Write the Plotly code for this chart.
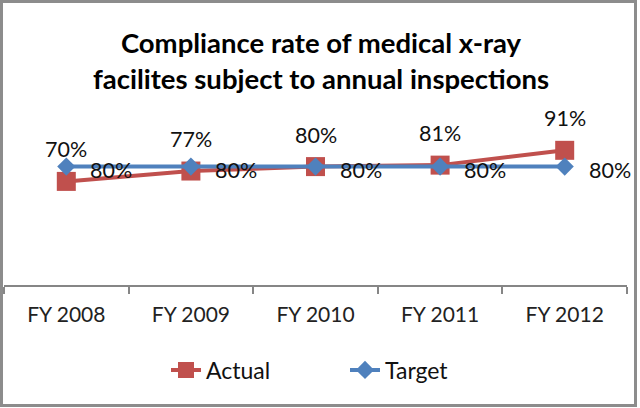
import plotly.graph_objects as go

categories = ["FY 2008", "FY 2009", "FY 2010", "FY 2011", "FY 2012"]
actual = [0.70, 0.77, 0.80, 0.81, 0.91]
target = [0.80, 0.80, 0.80, 0.80, 0.80]
actual_labels = ["70%", "77%", "80%", "81%", "91%"]
target_labels = ["80%", "80%", "80%", "80%", "80%"]

RED = "#C0504D"
BLUE = "#4F81BD"
FONT = "Lato"

W, H = 640, 408
L, R, T, B = 4, 13, 137, 123  # plot area margins

fig = go.Figure()
fig.add_trace(go.Scatter(
    x=categories, y=actual, name="Actual", mode="lines+markers",
    line=dict(color=RED, width=4),
    marker=dict(symbol="square", size=19, color=RED),
))
fig.add_trace(go.Scatter(
    x=categories, y=target, name="Target", mode="lines+markers",
    line=dict(color=BLUE, width=4),
    marker=dict(symbol="diamond", size=14, color=BLUE),
))

annotations = []
for c, v, t in zip(categories, actual, actual_labels):
    annotations.append(dict(x=c, y=v, xref="x", yref="y", text=t, showarrow=False,
                            yshift=32, font=dict(family=FONT, size=21.5, color="#111111")))
for c, v, t in zip(categories, target, target_labels):
    annotations.append(dict(x=c, y=v, xref="x", yref="y", text=t, showarrow=False,
                            xanchor="left", xshift=22, yshift=-3,
                            font=dict(family=FONT, size=21.5, color="#111111")))

pw = W - L - R
ph = H - T - B
def px_x(p):
    return (p - L) / pw
def px_y(p):
    return (H - B - p) / ph

shapes = [dict(type="rect", xref="paper", yref="paper",
               x0=px_x(1.5), x1=px_x(635.5), y0=px_y(1.5), y1=px_y(405.5),
               line=dict(color="#8C8C8C", width=3), fillcolor="rgba(0,0,0,0)")]

fig.update_layout(
    width=W, height=H,
    margin=dict(l=L, r=R, t=T, b=B, autoexpand=False),
    paper_bgcolor="white", plot_bgcolor="white",
    title=dict(text="<b>Compliance rate of medical x-ray<br>facilites subject to annual inspections</b>",
               x=px_x(321), xanchor="center", xref="paper",
               y=1 - 53 / H, yanchor="middle",
               font=dict(family=FONT, size=27.5, color="#000000")),
    showlegend=True,
    legend=dict(orientation="h", x=px_x(166), xanchor="left", y=px_y(370), yanchor="middle",
                entrywidth=134, font=dict(family=FONT, size=23, color="#111111")),
    xaxis=dict(range=[-0.5, 4.5], showline=True, linecolor="#868686", linewidth=1.5,
               ticks="outside", tickson="boundaries", ticklen=7, tickcolor="#868686",
               tickwidth=1.5, showgrid=False, zeroline=False,
               tickfont=dict(family=FONT, size=21, color="#222222"), ticklabelstandoff=10),
    yaxis=dict(range=[0, 1], visible=False, showgrid=False),
    annotations=annotations,
    shapes=shapes,
)

fig.write_html("out.html", config={"displayModeBar": False},
               post_script="document.body.style.margin='0';document.body.style.overflow='hidden';")
